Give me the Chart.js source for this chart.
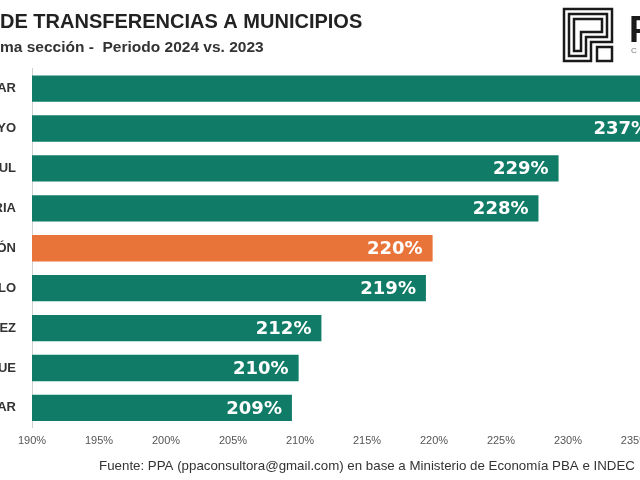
<!DOCTYPE html>
<html>
<head>
<meta charset="utf-8">
<script src="https://cdn.jsdelivr.net/npm/chart.js@4.4.1/dist/chart.umd.min.js"></script>
<style>
  html, body { margin: 0; padding: 0; background: #ffffff; overflow: hidden; width: 640px; height: 480px; }
  canvas { display: block; }
</style>
</head>
<body>
<canvas id="c" width="723" height="480"></canvas>
<script>
// ---- data (left labels are cropped in the original) ----
const categories = ['AR', 'YO', 'UL', 'RIA', 'ÓN', 'LO', 'EZ', 'UE', 'AR'];
const variation = [248.0, 236.8, 229.3, 227.8, 219.9, 219.4, 211.6, 209.9, 209.4];
const highlightIndex = 4;
const axisMin = 190, axisMax = 240, axisStep = 5;
const titleText = 'DE TRANSFERENCIAS A MUNICIPIOS';
const subtitleText = 'ma sección -  Periodo 2024 vs. 2023';
const sourceText = 'Fuente: PPA (ppaconsultora@gmail.com) en base a Ministerio de Economía PBA e INDEC';

const GREEN = '#107c68';
const ORANGE = '#e9743a';

const valueLabels = {
  id: 'valueLabels',
  afterDatasetsDraw(chart) {
    const ctx = chart.ctx;
    const meta = chart.getDatasetMeta(0);
    ctx.save();
    ctx.font = 'bold 18px "DejaVu Sans", sans-serif';
    ctx.fillStyle = '#ffffff';
    ctx.textAlign = 'right';
    ctx.textBaseline = 'middle';
    meta.data.forEach((bar, i) => {
      const v = chart.data.datasets[0].data[i];
      ctx.fillText(Math.round(v) + '%', bar.x - 10, bar.y + 1);
    });
    ctx.restore();
  }
};

const logo = {
  id: 'logo',
  afterDraw(chart) {
    const ctx = chart.ctx;
    ctx.save();
    ctx.strokeStyle = '#1a1a1a';
    ctx.lineWidth = 2.5;
    [0, 5, 10].forEach(k => {
      ctx.beginPath();
      ctx.moveTo(564 + k, 9 + k);
      ctx.lineTo(612 - k, 9 + k);
      ctx.lineTo(612 - k, 42 - k);
      ctx.lineTo(591 - k, 42 - k);
      ctx.lineTo(591 - k, 61 - k);
      ctx.lineTo(564 + k, 61 - k);
      ctx.closePath();
      ctx.stroke();
    });
    ctx.strokeRect(597, 47, 15, 14);
    ctx.fillStyle = '#1a1a1a';
    ctx.font = 'bold 36px "Liberation Sans", sans-serif';
    ctx.textBaseline = 'alphabetic';
    ctx.fillText('P', 629, 42);
    ctx.fillStyle = '#777';
    ctx.font = '8px "Liberation Sans", sans-serif';
    ctx.fillText('C', 631, 53);
    ctx.restore();
  }
};

Chart.defaults.font.family = '"Liberation Sans", Arial, sans-serif';

new Chart(document.getElementById('c'), {
  type: 'bar',
  data: {
    labels: categories,
    datasets: [{
      data: variation,
      backgroundColor: categories.map((_, i) => i === highlightIndex ? ORANGE : GREEN),
      borderWidth: 0,
      barPercentage: 0.66,
      categoryPercentage: 1.0
    }]
  },
  options: {
    indexAxis: 'y',
    responsive: false,
    animation: false,
    devicePixelRatio: 1,
    layout: { padding: { left: 0, right: 0, top: 0, bottom: 0 } },
    plugins: {
      legend: { display: false },
      tooltip: { enabled: false },
      title: {
        display: true,
        text: titleText,
        align: 'start',
        color: '#222222',
        font: { size: 20, weight: 'bold', lineHeight: 1.2 },
        padding: { top: 10, bottom: 2 }
      },
      subtitle: {
        display: true,
        text: subtitleText,
        align: 'start',
        color: '#333333',
        font: { size: 15.5, weight: 'bold', lineHeight: 1.2 },
        padding: { top: 2, bottom: 12 }
      }
    },
    scales: {
      x: {
        type: 'linear',
        min: axisMin,
        max: axisMax,
        grid: { display: false, drawTicks: false, tickLength: 0 },
        border: { display: false },
        ticks: {
          stepSize: axisStep,
          padding: 7,
          color: '#555555',
          font: { size: 11 },
          maxRotation: 0,
          callback: v => v + '%'
        },
        title: {
          display: true,
          text: sourceText,
          color: '#333333',
          font: { size: 13.3, lineHeight: 1.2 },
          padding: { top: 3, bottom: 6 }
        }
      },
      y: {
        grid: { display: false, drawTicks: false, tickLength: 0 },
        border: { display: true, color: '#d0d0d0', width: 1 },
        ticks: {
          padding: 16,
          color: '#333333',
          font: { size: 13, weight: 'bold' }
        },
        afterFit(scale) { scale.width = 32; }
      }
    }
  },
  plugins: [valueLabels, logo]
});
</script>
</body>
</html>
